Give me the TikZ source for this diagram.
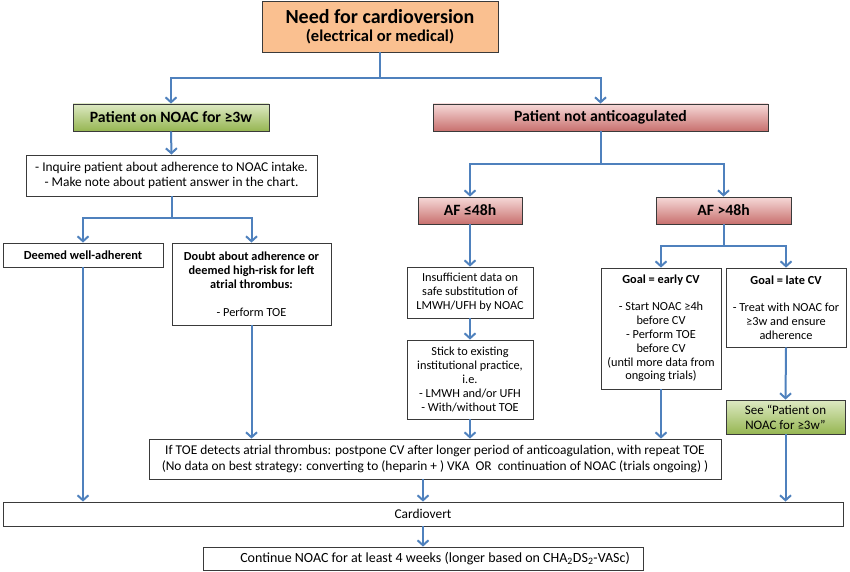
\documentclass[tikz,border=0pt]{standalone}
\usepackage{fontspec}
\setmainfont{Carlito}
\usetikzlibrary{arrows.meta,shadows}
\definecolor{arrowblue}{HTML}{4F81BD}
\definecolor{orangefill}{HTML}{FAC090}
\definecolor{greentop}{HTML}{DDE9C3}
\definecolor{greenbot}{HTML}{96B652}
\definecolor{redtop}{HTML}{F6D9D8}
\definecolor{redbot}{HTML}{C8706E}
\definecolor{boxline}{HTML}{3A3A3A}
\tikzset{
  box/.style={draw=boxline, line width=0.8pt, fill=white, align=center, inner sep=2pt,
    font=\fontsize{12.3}{13.9}\selectfont},
  boxb/.style={box, font=\fontsize{12.4}{13.9}\selectfont\bfseries},
  shad/.style={drop shadow={opacity=0.35,shadow xshift=1pt,shadow yshift=-1pt}},
  greenbox/.style={box, top color=greentop, bottom color=greenbot, shad},
  redbox/.style={box, top color=redtop, bottom color=redbot, shad},
  headfont/.style={font=\fontsize{15.7}{18}\selectfont\bfseries},
  ln/.style={draw=arrowblue, line width=2pt},
  arr/.style={ln, -{Straight Barb[length=5pt,width=11pt]}},
}
\begin{document}
\begin{tikzpicture}[x=1pt,y=-1pt]
\useasboundingbox (0,0) rectangle (850,572);
% nodes
\node[box, fill=orangefill, shad, minimum width=236pt, minimum height=51pt, font=\fontsize{20}{17.5}\selectfont\bfseries] (top) at (380,26.5)
  {Need for cardioversion\\{\fontsize{16.5}{17.5}\selectfont (electrical or medical)}};
\node[greenbox, headfont, minimum width=196pt, minimum height=27pt] (green) at (171,117.5) {Patient on NOAC for ≥3w};
\node[redbox, headfont, minimum width=335pt, minimum height=27pt] (red) at (600.5,117.5) {Patient not anticoagulated};
\node[box, minimum width=291pt, minimum height=41pt, font=\fontsize{13.4}{15}\selectfont] (inq) at (171.5,175.5)
  {- Inquire patient about adherence to NOAC intake.\\- Make note about patient answer in the chart.};
\node[boxb, minimum width=160pt, minimum height=24pt] (deem) at (83,255) {Deemed well-adherent};
\node[box, minimum width=159pt, minimum height=82pt] (doubt) at (251.5,284)
  {\textbf{Doubt about adherence or}\\\textbf{deemed high-risk for left}\\\textbf{atrial thrombus:}\\[13.9pt]- Perform TOE};
\node[redbox, headfont, minimum width=104pt, minimum height=27pt] (af1) at (470,210.5) {AF ≤48h};
\node[redbox, headfont, minimum width=135pt, minimum height=27pt] (af2) at (723.5,210.5) {AF >48h};
\node[box, minimum width=126pt, minimum height=51pt] (insuf) at (470,292.5)
  {Insufficient data on\\safe substitution of\\LMWH/UFH by NOAC};
\node[box, minimum width=126pt, minimum height=79pt] (stick) at (470,379.5)
  {Stick to existing\\institutional practice,\\i.e.\\- LMWH and/or UFH\\- With/without TOE};
\node[box, minimum width=120pt, minimum height=121pt] (early) at (661,328.5)
  {\textbf{Goal = early CV}\\[13pt]- Start NOAC ≥4h\\before CV\\- Perform TOE\\before CV\\(until more data from\\ongoing trials)};
\node[box, minimum width=120pt, minimum height=79pt] (late) at (786,307.5)
  {\textbf{Goal = late CV}\\[13pt]- Treat with NOAC for\\≥3w and ensure\\adherence};
\node[greenbox, minimum width=119pt, minimum height=34pt, font=\fontsize{13}{15}\selectfont] (see) at (785.5,417)
  {See “Patient on\\NOAC for ≥3w”};
\node[box, minimum width=572pt, minimum height=40pt, font=\fontsize{13.4}{15.5}\selectfont] (toe) at (435,459)
  {If TOE detects atrial thrombus: postpone CV after longer period of anticoagulation, with repeat TOE\\(No data on best strategy: converting to (heparin + ) VKA\ \ OR\ \ continuation of NOAC (trials ongoing) )};
\node[box, minimum width=840pt, minimum height=24pt, font=\fontsize{13.4}{15}\selectfont] (cardio) at (423,514) {Cardiovert};
\node[box, minimum width=440pt, minimum height=23pt, font=\fontsize{14}{15}\selectfont] (cont) at (423,558.5)
  {\hspace*{24pt}Continue NOAC for at least 4 weeks (longer based on CHA\textsubscript{2}DS\textsubscript{2}-VASc)};
% junctions
\coordinate (j1) at (380,78);
\coordinate (j2) at (171.5,218);
\coordinate (j3) at (600.5,164);
\coordinate (j4) at (723.5,246);
% connectors
\draw[ln] (top.south) -- (j1);
\draw[arr] (j1) -| (green.north);
\draw[arr] (j1) -| (red.north);
\draw[arr] (green.south) -- (inq.north);
\draw[ln] (inq.south) -- (j2);
\draw[arr] (j2) -| (deem.north);
\draw[arr] (j2) -| (doubt.north);
\draw[ln] (red.south) -- (j3);
\draw[arr] (j3) -| (af1.north);
\draw[arr] (j3) -| (af2.north);
\draw[ln] (af2.south) -- (j4);
\draw[arr] (j4) -| (early.north);
\draw[arr] (j4) -| (late.north);
\draw[arr] (af1.south) -- (insuf.north);
\draw[arr] (insuf.south) -- (stick.north);
\draw[arr] (stick.south) -- (stick.south |- toe.north);
\draw[arr] (doubt.south) -- (doubt.south |- toe.north);
\draw[arr] (early.south) -- (early.south |- toe.north);
\draw[arr] (late.south) -- (see.north);
\draw[arr] (see.south) -- (see.south |- cardio.north);
\draw[arr] (deem.south) -- (deem.south |- cardio.north);
\draw[arr] (cardio.north |- toe.south) -- (cardio.north);
\draw[arr] (cardio.south) -- (cont.north);
\end{tikzpicture}
\end{document}
